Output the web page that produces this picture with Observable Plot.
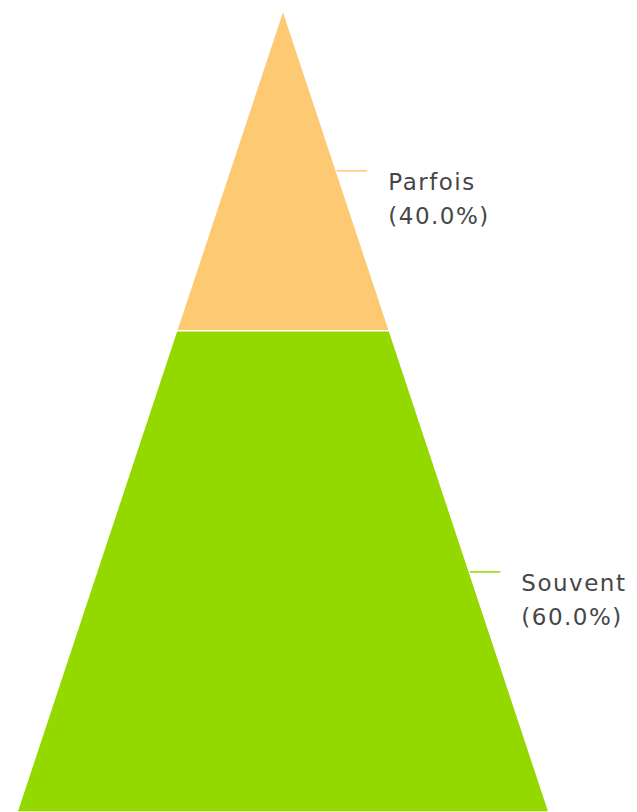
<!DOCTYPE html>
<html>
<head>
<meta charset="utf-8">
<script src="https://cdn.jsdelivr.net/npm/d3@7"></script>
<script src="https://cdn.jsdelivr.net/npm/@observablehq/plot@0.6"></script>
<style>
  body { margin: 0; background: #fff; }
  #chart svg { display: block; }
  #chart svg text { letter-spacing: 1.5px; }
</style>
</head>
<body>
<div id="chart"></div>
<script>
const categories = ["Parfois", "Souvent"];
const values = [40, 60];
const percentLabels = ["(40.0%)", "(60.0%)"];
const colors = ["#FDC972", "#93D900"];

const total = d3.sum(values);
const segments = [];
let acc = 0;
categories.forEach((c, i) => {
  const start = acc, end = acc + values[i] / total * 100;
  segments.push({cat: c, start, end, mid: (start + end) / 2, label: c + "\n" + percentLabels[i]});
  acc = end;
});
const rows = segments.flatMap(s => [
  {cat: s.cat, y: s.start, half: s.start / 100},
  {cat: s.cat, y: s.end, half: s.end / 100}
]);

const chart = Plot.plot({
  width: 637,
  height: 812,
  marginTop: 10,
  marginBottom: 0,
  marginLeft: 17,
  marginRight: 88,
  x: {axis: null, domain: [-1, 1]},
  y: {axis: null, domain: [0, 100], reverse: true},
  color: {domain: categories, range: colors},
  style: {background: "#fff"},
  marks: [
    Plot.areaX(rows, {y: "y", x1: d => -d.half, x2: d => d.half, z: "cat", fill: "cat", stroke: "white", strokeWidth: 1.5}),
    Plot.link(segments, {x1: d => d.mid / 100, x2: d => d.mid / 100 + 0.115, y1: "mid", y2: "mid", stroke: "cat", strokeWidth: 1.5}),
    Plot.text(segments, {
      x: d => d.mid / 100 + 0.115, y: "mid", text: "label",
      dx: 21, dy: 25, textAnchor: "start", lineAnchor: "middle", lineHeight: 1.48,
      fontSize: 23, fill: "#474747", fontFamily: "DejaVu Sans"
    })
  ]
});
document.getElementById("chart").append(chart);
</script>
</body>
</html>
